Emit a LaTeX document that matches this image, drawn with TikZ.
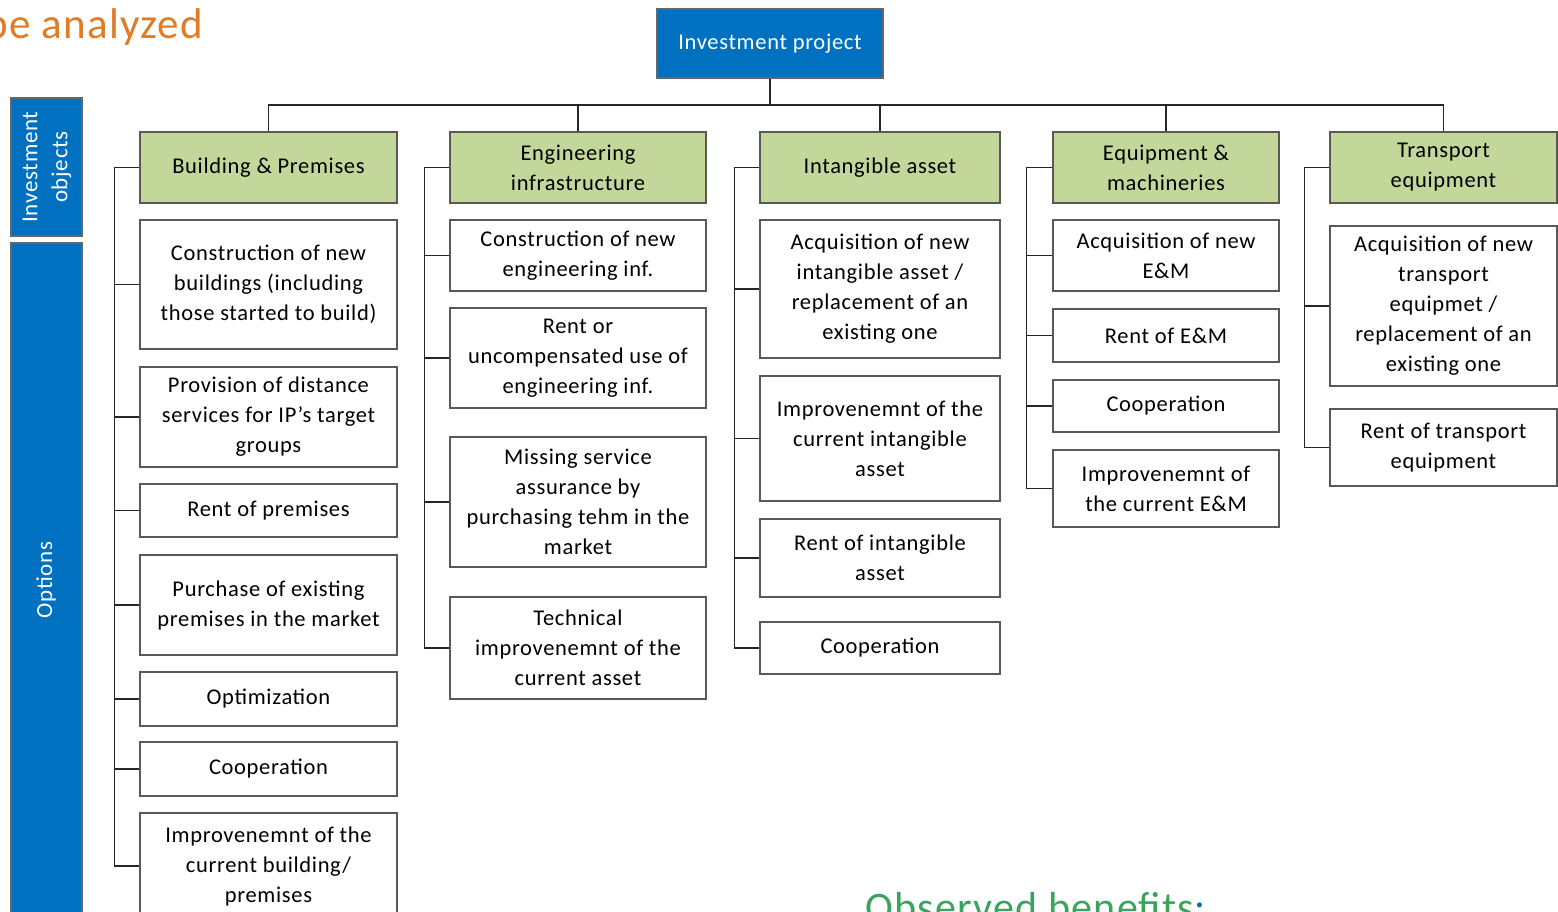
\documentclass[tikz,border=0pt]{standalone}
\usepackage{fontspec}
\setmainfont{Carlito}[LetterSpace=3]
\definecolor{pblue}{HTML}{0070C0}
\definecolor{pgreen}{HTML}{C4D79B}
\definecolor{porange}{HTML}{E07B26}
\definecolor{obgreen}{HTML}{3AA35C}
\newcommand\mybox[7]{\node[#2, minimum width={(#5)-(#3)}, minimum height={(#6)-(#4)}] (#1) at ({((#3)+(#5))/2},{((#4)+(#6))/2}) {#7};}
\tikzset{
  conn/.style={draw=black!85, line width=1.6pt},
  optbox/.style={draw=black!65, line width=1.2pt, fill=white, align=center, inner sep=0pt, font=\fontsize{22.5}{30}\selectfont},
  hdrbox/.style={optbox, fill=pgreen},
  bluebox/.style={draw=black!60, line width=1.2pt, fill=pblue, text=white, align=center, inner sep=0pt, font=\fontsize{22.5}{30}\selectfont},
}
\begin{document}
\begin{tikzpicture}[x=1pt,y=-1pt]
\useasboundingbox (0,0) rectangle (1558,912);
% title fragments
\node[anchor=base west, inner sep=0pt, text=porange, font=\fontsize{43}{50}\selectfont] (title) at (-15,39) {be analyzed};
\node[anchor=base west, inner sep=0pt, text=obgreen, font=\fontsize{42}{48}\selectfont] (obs) at (865,921) {Observed benefits\textcolor{pblue}{:}};
% left bars
\mybox{io}{bluebox}{11}{98}{82}{236}{}
\node[rotate=90, text=white, align=center, font=\fontsize{23}{30}\selectfont] (iot) at (47,167) {Investment\\objects};
\mybox{op}{bluebox}{11}{243}{82}{930}{}
\node[rotate=90, text=white, font=\fontsize{23}{30}\selectfont] (opt) at (46,580) {Options};
% top
\mybox{top}{bluebox}{657}{9}{883}{78}{Investment project}
% headers
\mybox{h1}{hdrbox}{140}{132}{397}{203}{Building \& Premises}
\mybox{h2}{hdrbox}{450}{132}{706}{203}{Engineering\\infrastructure}
\mybox{h3}{hdrbox}{760}{132}{1000}{203}{Intangible asset}
\mybox{h4}{hdrbox}{1053}{132}{1279}{203}{Equipment \&\\machineries}
\mybox{h5}{hdrbox}{1330}{132}{1557}{203}{Transport\\equipment}
% column 1
\mybox{a1}{optbox}{140}{220}{397}{349}{Construction of new\\buildings (including\\those started to build)}
\mybox{a2}{optbox}{140}{367}{397}{467}{Provision of distance\\services for IP’s target\\groups}
\mybox{a3}{optbox}{140}{484}{397}{537}{Rent of premises}
\mybox{a4}{optbox}{140}{555}{397}{655}{Purchase of existing\\premises in the market}
\mybox{a5}{optbox}{140}{672}{397}{726}{Optimization}
\mybox{a6}{optbox}{140}{742}{397}{796}{Cooperation}
\mybox{a7}{optbox}{140}{813}{397}{919}{Improvenemnt of the\\current building/\\premises}
% column 2
\mybox{b1}{optbox}{450}{220}{706}{291}{Construction of new\\engineering inf.}
\mybox{b2}{optbox}{450}{308}{706}{408}{Rent or\\uncompensated use of\\engineering inf.}
\mybox{b3}{optbox}{450}{437}{706}{567}{Missing service\\assurance by\\purchasing tehm in the\\market}
\mybox{b4}{optbox}{450}{597}{706}{699}{Technical\\improvenemnt of the\\current asset}
% column 3
\mybox{c1}{optbox}{760}{220}{1000}{358}{Acquisition of new\\intangible asset /\\replacement of an\\existing one}
\mybox{c2}{optbox}{760}{376}{1000}{501}{Improvenemnt of the\\current intangible\\asset}
\mybox{c3}{optbox}{760}{519}{1000}{597}{Rent of intangible\\asset}
\mybox{c4}{optbox}{760}{622}{1000}{674}{Cooperation}
% column 4
\mybox{d1}{optbox}{1053}{220}{1279}{291}{Acquisition of new\\E\&M}
\mybox{d2}{optbox}{1053}{309}{1279}{362}{Rent of E\&M}
\mybox{d3}{optbox}{1053}{380}{1279}{432}{Cooperation}
\mybox{d4}{optbox}{1053}{450}{1279}{527}{Improvenemnt of\\the current E\&M}
% column 5
\mybox{e1}{optbox}{1330}{226}{1557}{386}{Acquisition of new\\transport\\equipmet /\\replacement of an\\existing one}
\mybox{e2}{optbox}{1330}{409}{1557}{486}{Rent of transport\\equipment}
% tree connectors
\coordinate (bus) at (770,105);
\draw[conn] (top.south) -- (bus);
\draw[conn] (h1.north) |- (bus);
\draw[conn] (h5.north) |- (bus);
\draw[conn] (h2.north) -- (h2.north |- bus);
\draw[conn] (h3.north) -- (h3.north |- bus);
\draw[conn] (h4.north) -- (h4.north |- bus);
% spines
\draw[conn] (h1.west) -- +(-25,0) |- (a7.west);
\foreach \n in {a1,a2,a3,a4,a5,a6} \draw[conn] (\n.west) -- +(-25,0);
\draw[conn] (h2.west) -- +(-25,0) |- (b4.west);
\foreach \n in {b1,b2,b3} \draw[conn] (\n.west) -- +(-25,0);
\draw[conn] (h3.west) -- +(-25,0) |- (c4.west);
\foreach \n in {c1,c2,c3} \draw[conn] (\n.west) -- +(-25,0);
\draw[conn] (h4.west) -- +(-26,0) |- (d4.west);
\foreach \n in {d1,d2,d3} \draw[conn] (\n.west) -- +(-26,0);
\draw[conn] (h5.west) -- +(-25,0) |- (e2.west);
\draw[conn] (e1.west) -- +(-25,0);
\end{tikzpicture}
\end{document}
